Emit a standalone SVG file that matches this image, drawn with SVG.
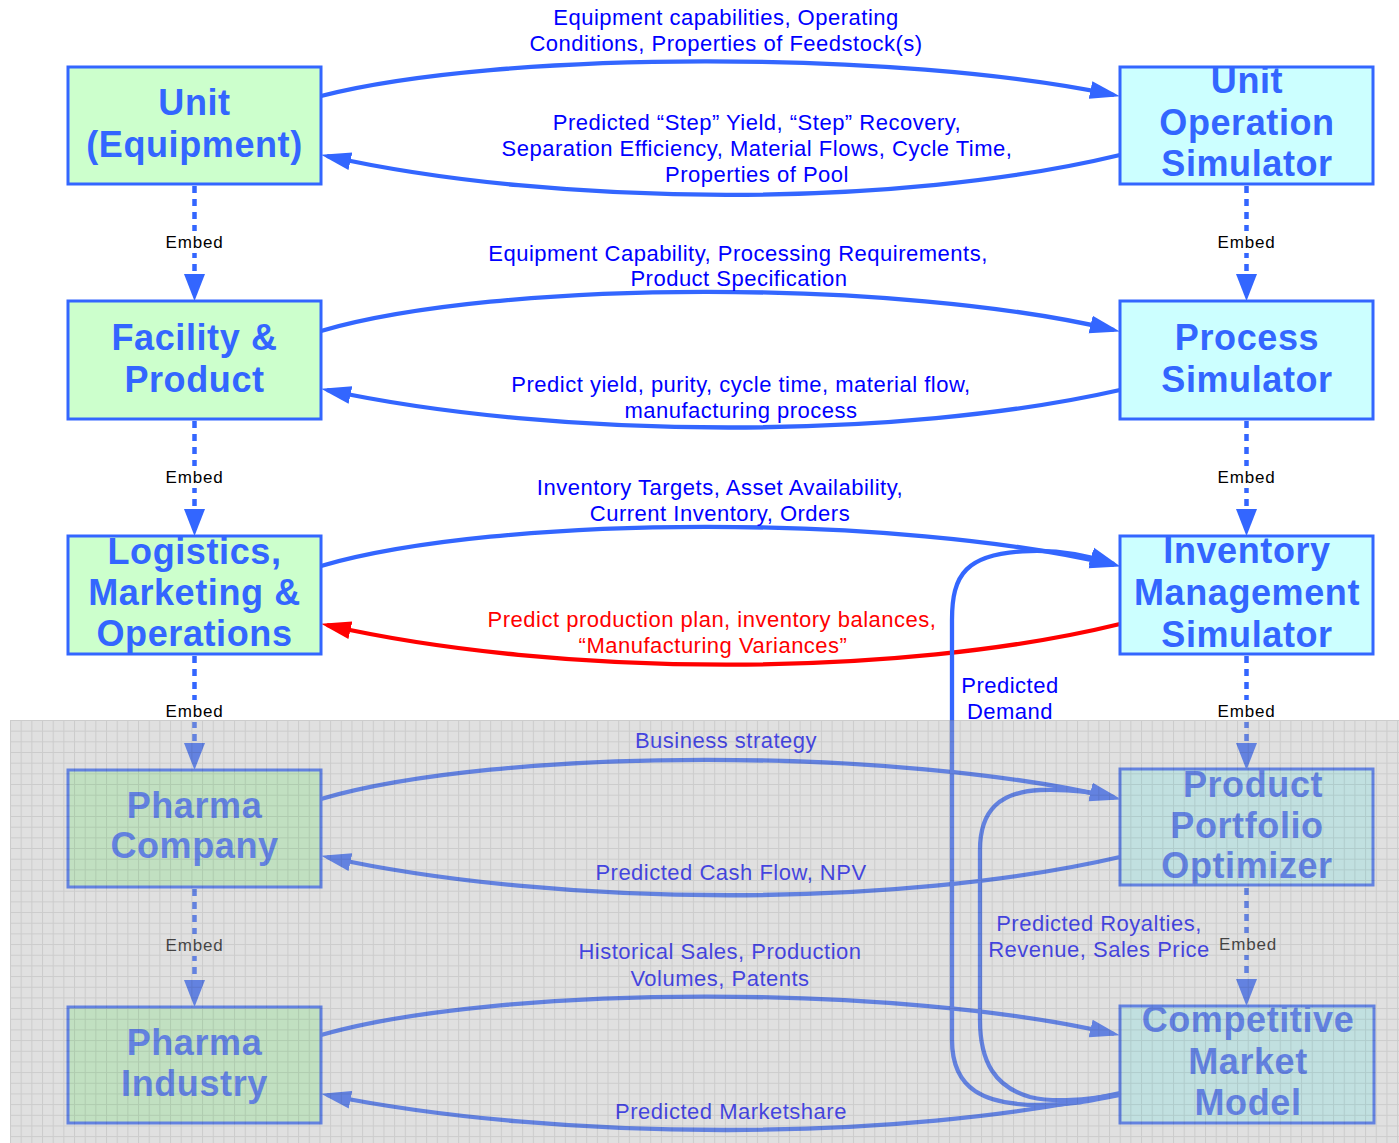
<svg xmlns="http://www.w3.org/2000/svg" width="1399" height="1143" viewBox="0 0 1399 1143">
<style>
.box-l{fill:#ccffcc;stroke:#3366ff;stroke-width:3}
.box-r{fill:#ccffff;stroke:#3366ff;stroke-width:3}
.nt{font-family:"Liberation Sans",Arial,sans-serif;font-weight:bold;font-size:36px;fill:#3366ff;text-anchor:middle;letter-spacing:0.6px}
.lbl{font-family:"Liberation Sans",Arial,sans-serif;font-size:22px;fill:#0000ff;text-anchor:middle;letter-spacing:0.5px}
.red{fill:#ff0000}
.emb{font-family:"Liberation Sans",Arial,sans-serif;font-size:17px;fill:#000;text-anchor:middle;letter-spacing:0.8px}
.arr{fill:none;stroke:#3366ff;stroke-width:4.3;marker-end:url(#ab)}
.arr-red{fill:none;stroke:#ff0000;stroke-width:4.3;marker-end:url(#ar)}
.dot{fill:none;stroke:#3366ff;stroke-width:4.5;stroke-dasharray:7 6;marker-end:url(#ae)}
.eb{fill:#ffffff}
</style>
<defs>
<marker id="ab" markerUnits="userSpaceOnUse" markerWidth="30" markerHeight="20" viewBox="0 0 30 20" refX="24" refY="10" orient="auto"><path d="M0,1 L30,10 L0,19 z" fill="#3366ff"/></marker>
<marker id="ar" markerUnits="userSpaceOnUse" markerWidth="30" markerHeight="20" viewBox="0 0 30 20" refX="24" refY="10" orient="auto"><path d="M0,1 L30,10 L0,19 z" fill="#ff0000"/></marker>
<marker id="ae" markerUnits="userSpaceOnUse" markerWidth="27" markerHeight="21" viewBox="0 0 27 21" refX="21" refY="10.5" orient="auto"><path d="M0,0 L27,10.5 L0,21 z" fill="#3366ff"/></marker>
<pattern id="grid" width="10.67" height="10.67" patternUnits="userSpaceOnUse" x="10" y="720"><path d="M0.5,0 V10.67 M0,0.5 H10.67" stroke="#000" stroke-opacity="0.09" stroke-width="1" fill="none"/></pattern>
</defs>
<rect width="1399" height="1143" fill="#ffffff"/>

<g id="connectors">
<path class="arr" d="M321,96 C500,50 900,50 1114,95"/>
<path class="arr" d="M1120,155 C900,208 560,208 327,156"/>
<path class="arr" d="M321,331 C500,279 900,279 1114,330"/>
<path class="arr" d="M1120,390 C900,440 560,440 327,390"/>
<path class="arr" d="M321,566 C500,514 900,514 1114,565"/>
<path class="arr-red" d="M1120,624 C900,678 560,678 327,625"/>
<path class="arr" d="M1120,1095 C1090,1101 1070,1105 1040,1105 C985,1105 952,1090 952,1040 L952,620 C952,575 965,553 1030,551 C1060,550 1090,556 1114,564"/>
<path class="arr" d="M321,799 C500,747 900,747 1114,798"/>
<path class="arr" d="M1120,857 C900,908 560,908 327,857"/>
<path class="arr" d="M1120,1094 C1085,1100 1055,1103 1030,1097 C995,1087 980,1062 980,1020 L980,850 C980,810 1000,792 1040,790 C1070,789 1093,792 1114,797"/>
<path class="arr" d="M321,1035 C500,984 900,984 1114,1034"/>
<path class="arr" d="M1120,1093 C900,1142 560,1142 327,1095"/>
<path class="dot" d="M194.5,186 V295"/>
<path class="dot" d="M194.5,421 V530"/>
<path class="dot" d="M194.5,656 V764"/>
<path class="dot" d="M194.5,889 V1001"/>
<path class="dot" d="M1246.5,186 V295"/>
<path class="dot" d="M1246.5,421 V530"/>
<path class="dot" d="M1246.5,656 V764"/>
<path class="dot" d="M1246.5,888 V1000"/>
<rect class="eb" x="163" y="231" width="63" height="22"/>
<rect class="eb" x="163" y="466" width="63" height="22"/>
<rect class="eb" x="163" y="700" width="63" height="22"/>
<rect class="eb" x="163" y="934" width="63" height="22"/>
<rect class="eb" x="1215" y="231" width="63" height="22"/>
<rect class="eb" x="1215" y="466" width="63" height="22"/>
<rect class="eb" x="1215" y="700" width="63" height="22"/>
<rect class="eb" x="1215" y="933" width="63" height="22"/>
<text class="emb" x="194.5" y="248">Embed</text>
<text class="emb" x="194.5" y="483">Embed</text>
<text class="emb" x="194.5" y="717">Embed</text>
<text class="emb" x="194.5" y="951">Embed</text>
<text class="emb" x="1246.5" y="248">Embed</text>
<text class="emb" x="1246.5" y="483">Embed</text>
<text class="emb" x="1246.5" y="717">Embed</text>
<text class="emb" x="1248" y="950">Embed</text>
<text class="lbl" x="726" y="25">Equipment capabilities, Operating</text>
<text class="lbl" x="726" y="51">Conditions, Properties of Feedstock(s)</text>
<text class="lbl" x="757" y="130">Predicted “Step” Yield, “Step” Recovery,</text>
<text class="lbl" x="757" y="156">Separation Efficiency, Material Flows, Cycle Time,</text>
<text class="lbl" x="757" y="182">Properties of Pool</text>
<text class="lbl" x="738" y="261">Equipment Capability, Processing Requirements,</text>
<text class="lbl" x="739" y="286">Product Specification</text>
<text class="lbl" x="741" y="392">Predict yield, purity, cycle time, material flow,</text>
<text class="lbl" x="741" y="418">manufacturing process</text>
<text class="lbl" x="720" y="495">Inventory Targets, Asset Availability,</text>
<text class="lbl" x="720" y="521">Current Inventory, Orders</text>
<text class="lbl red" x="712" y="627">Predict production plan, inventory balances,</text>
<text class="lbl red" x="713" y="653">“Manufacturing Variances”</text>
<text class="lbl" x="1010" y="693">Predicted</text>
<text class="lbl" x="1010" y="719">Demand</text>
<text class="lbl" x="726" y="748">Business strategy</text>
<text class="lbl" x="731" y="880">Predicted Cash Flow, NPV</text>
<text class="lbl" x="1099" y="931">Predicted Royalties,</text>
<text class="lbl" x="1099" y="957">Revenue, Sales Price</text>
<text class="lbl" x="720" y="959">Historical Sales, Production</text>
<text class="lbl" x="720" y="986">Volumes, Patents</text>
<text class="lbl" x="731" y="1119">Predicted Marketshare</text>
</g>

<g id="node-unit">
<rect class="box-l" x="68" y="67" width="253" height="117"/>
<text class="nt" x="194.5" y="115">Unit</text>
<text class="nt" x="194.5" y="157">(Equipment)</text>
</g>
<g id="node-facility">
<rect class="box-l" x="68" y="301" width="253" height="118"/>
<text class="nt" x="194.5" y="350">Facility &amp;</text>
<text class="nt" x="194.5" y="392">Product</text>
</g>
<g id="node-logistics">
<rect class="box-l" x="68" y="536" width="253" height="118"/>
<text class="nt" x="194.5" y="564">Logistics,</text>
<text class="nt" x="194.5" y="605">Marketing &amp;</text>
<text class="nt" x="194.5" y="646">Operations</text>
</g>
<g id="node-pharma-company">
<rect class="box-l" x="68" y="770" width="253" height="117"/>
<text class="nt" x="194.5" y="818">Pharma</text>
<text class="nt" x="194.5" y="858">Company</text>
</g>
<g id="node-pharma-industry">
<rect class="box-l" x="68" y="1007" width="253" height="116"/>
<text class="nt" x="194.5" y="1055">Pharma</text>
<text class="nt" x="194.5" y="1096">Industry</text>
</g>
<g id="node-unit-op-sim">
<rect class="box-r" x="1120" y="67" width="253" height="117"/>
<text class="nt" x="1247" y="93">Unit</text>
<text class="nt" x="1247" y="135">Operation</text>
<text class="nt" x="1247" y="176">Simulator</text>
</g>
<g id="node-process-sim">
<rect class="box-r" x="1120" y="301" width="253" height="118"/>
<text class="nt" x="1247" y="350">Process</text>
<text class="nt" x="1247" y="392">Simulator</text>
</g>
<g id="node-inventory-sim">
<rect class="box-r" x="1120" y="536" width="253" height="118"/>
<text class="nt" x="1247" y="563">Inventory</text>
<text class="nt" x="1247" y="605">Management</text>
<text class="nt" x="1247" y="647">Simulator</text>
</g>
<g id="node-portfolio">
<rect class="box-r" x="1120" y="769" width="253" height="116"/>
<text class="nt" x="1253" y="797">Product</text>
<text class="nt" x="1247" y="838">Portfolio</text>
<text class="nt" x="1247" y="878">Optimizer</text>
</g>
<g id="node-market-model">
<rect class="box-r" x="1120" y="1006" width="254" height="117"/>
<text class="nt" x="1248" y="1032">Competitive</text>
<text class="nt" x="1248" y="1074">Market</text>
<text class="nt" x="1248" y="1115">Model</text>
</g>

<g id="overlay">
<rect x="10" y="720" width="1389" height="423" fill="#afafaf" fill-opacity="0.39"/>
<rect x="10" y="720" width="1389" height="423" fill="url(#grid)"/>
</g>
</svg>
